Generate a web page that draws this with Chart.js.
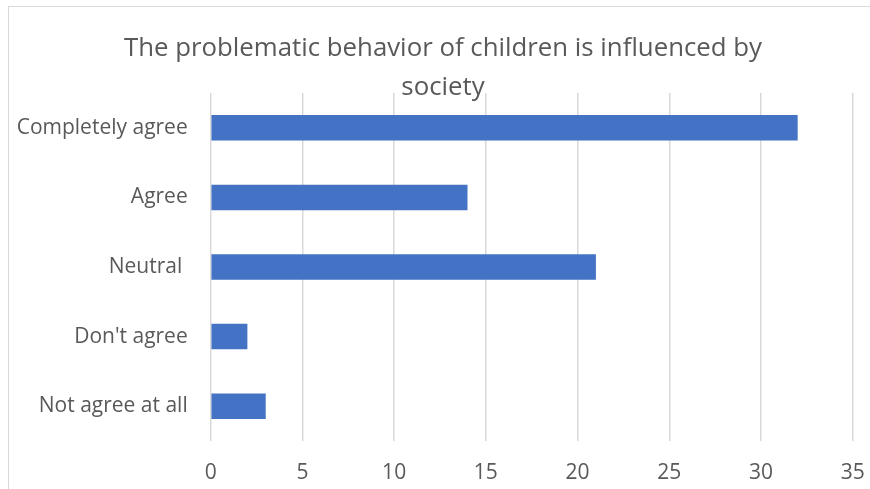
<!DOCTYPE html>
<html>
<head>
<meta charset="utf-8">
<script src="https://cdn.jsdelivr.net/npm/chart.js@4"></script>
<style>
  html, body { margin: 0; padding: 0; background: #ffffff; }
  #wrap { position: relative; width: 870px; height: 489px; overflow: hidden; }
  #frame { position: absolute; left: 8px; top: 6px; width: 900px; height: 600px;
           border-left: 1px solid #d9d9d9; border-top: 1px solid #d9d9d9; box-sizing: border-box; }
  canvas { position: absolute; left: 0; top: 0; }
</style>
</head>
<body>
<div id="wrap">
  <div id="frame"></div>
  <canvas id="chart" width="870" height="489"></canvas>
</div>
<script>
const titleLines = ['The problematic behavior of children is influenced by', 'society'];
const categories = ['Completely agree', 'Agree', 'Neutral ', "Don't agree", 'Not agree at all'];
const responses = [32, 14, 21, 2, 3];
const axisMin = 0;
const axisMax = 35;
const axisStep = 5;

const textColor = '#595959';
const fontFamily = '"Open Sans", "Noto Sans", sans-serif';

new Chart(document.getElementById('chart'), {
  type: 'bar',
  data: {
    labels: categories,
    datasets: [{
      data: responses,
      backgroundColor: '#4472C4',
      borderWidth: 0,
      categoryPercentage: 1,
      barPercentage: 0.366
    }]
  },
  options: {
    indexAxis: 'y',
    responsive: false,
    animation: false,
    devicePixelRatio: 1,
    layout: { padding: { left: 16, right: 0, top: 0, bottom: 0 } },
    plugins: {
      legend: { display: false },
      tooltip: { enabled: false },
      title: {
        display: true,
        text: titleLines,
        color: textColor,
        font: { family: fontFamily, size: 25.8, weight: 'normal', lineHeight: 1.52 },
        padding: { top: 28.7, bottom: -14.1 }
      }
    },
    scales: {
      x: {
        min: axisMin,
        max: axisMax,
        ticks: {
          stepSize: axisStep,
          color: textColor,
          font: { family: fontFamily, size: 21 },
          padding: 19
        },
        grid: { color: '#d9d9d9', lineWidth: 1.5, drawTicks: false },
        border: { display: false },
        afterFit: (scale) => {
          scale.height = 48;
          scale.paddingLeft = 0;
          scale.paddingRight = 17.3;
        }
      },
      y: {
        ticks: {
          color: textColor,
          font: { family: fontFamily, size: 21 },
          padding: 23
        },
        grid: { display: false, drawTicks: false },
        border: { display: false },
        afterFit: (scale) => { scale.width = 194.7; }
      }
    }
  }
});
</script>
</body>
</html>
